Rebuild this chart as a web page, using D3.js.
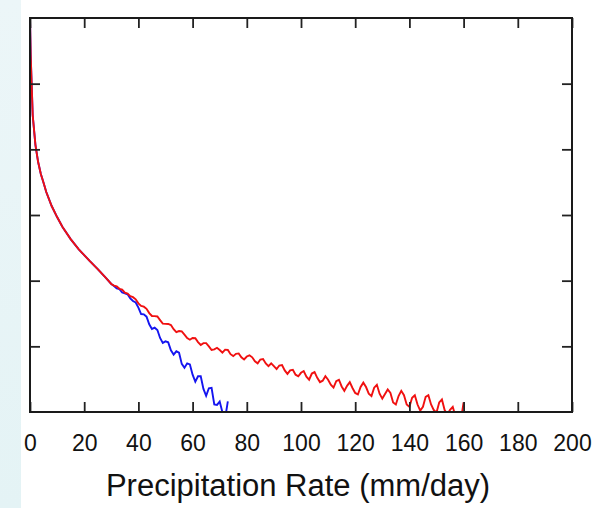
<!DOCTYPE html>
<html>
<head>
<meta charset="utf-8">
<script src="https://cdn.jsdelivr.net/npm/d3@7"></script>
<style>
  body { margin: 0; background: #fff; }
  svg { display: block; }
</style>
</head>
<body>
<div id="chart"></div>
<script>
// shared part of both curves (rate in mm/day, count on log axis)
var commonRates = [0, 0.25, 0.5, 1, 2, 3, 4, 5, 6, 8, 10, 12, 15, 18, 20, 22, 25, 28, 30];
var commonCounts = [1e6, 275000, 135000, 33000, 11700, 6400, 4200, 3100, 2240, 1370, 930, 655, 430, 300, 245, 200, 150, 110, 89];

// red tail, 1 mm/day bins from 31 to 160
var redTail = [
  84, 81.6, 75.2, 73.1, 65.7, 63.6, 58.2, 56.1, 52, 45.1,
  41.3, 40.2, 37.3, 32.1, 29.0, 28.8, 28.5, 25.1, 22.2, 22.0,
  21.9, 21.1, 18.2, 16.4, 17.1, 16.9, 15.1, 13.4, 12.6, 13.4,
  13.3, 11.6, 10.5, 11.2, 11.2, 10.0, 8.8, 9.0, 9.5, 8.8,
  8.0, 8.9, 8.8, 7.6, 7.1, 7.7, 7.8, 6.8, 6.3, 7.0,
  7.3, 6.8, 5.9, 5.5, 6.3, 6.4, 5.5, 5.0, 5.5, 5.0,
  4.5, 5.1, 5.2, 4.3, 3.8, 4.3, 4.4, 3.7, 3.5, 3.95,
  4.2, 3.45, 3.1, 3.85, 4.05, 3.31, 2.85, 3.0, 3.5, 3.1,
  2.6, 2.35, 2.95, 3.1, 2.45, 2.1, 2.5, 2.85, 2.32, 1.95,
  1.85, 2.4, 2.8, 2.4, 1.9, 1.75, 2.35, 2.6, 1.9, 1.6,
  1.88, 2.2, 1.95, 1.4, 1.3, 1.75, 2.1, 1.8, 1.3, 1.2,
  1.65, 1.8, 1.3, 1.05, 1.2, 1.7, 1.8, 1.3, 1.07, 0.98,
  1.4, 1.55, 1.07, 0.92, 1.08, 1.2, 0.86, 0.7, 0.75, 1.4
];

// blue tail, 1 mm/day bins from 31 to 73
var blueTail = [
  83, 76.4, 74.2, 66, 64.3, 62, 53.8, 49, 46.6, 38.8,
  31, 30.7, 28.3, 21.7, 18.4, 19.2, 17.7, 13.4, 11.3, 11.9,
  11.5, 8.7, 7.5, 8.4, 8.0, 5.4, 4.7, 5.5, 5.3, 3.7,
  2.9, 3.5, 3.5, 2.25, 1.76, 2.3, 2.34, 1.3, 1.28, 1.44,
  0.99, 0.8, 1.45
];

var xTicks = [0, 20, 40, 60, 80, 100, 120, 140, 160, 180, 200];
var yTicks = [10, 100, 1000, 10000, 100000];

function init(){
    var w = 595, h = 508;
    var left = 30, right = 572, top = 18, bottom = 412;

    var svg = d3.select("#chart").append("svg")
        .attr("width", w).attr("height", h);

    // light strip at the left edge
    var defs = svg.append("defs");
    var grad = defs.append("linearGradient")
        .attr("id", "strip").attr("x1", 0).attr("y1", 0).attr("x2", 0).attr("y2", 1);
    grad.append("stop").attr("offset", 0).attr("stop-color", "#ecf6f8");
    grad.append("stop").attr("offset", 1).attr("stop-color", "#e4f3f5");
    svg.append("rect").attr("x", 0).attr("y", 0).attr("width", 21).attr("height", h)
        .attr("fill", "url(#strip)");

    defs.append("clipPath").attr("id", "plot")
        .append("rect").attr("x", left).attr("y", top)
        .attr("width", right - left).attr("height", bottom - top);

    var x = d3.scaleLinear().domain([0, 200]).range([left, right]);
    var y = d3.scaleLog().domain([1, 1e6]).range([bottom, top]);

    function series(tail){
        var pts = commonRates.map(function(r, i){ return {rate: r, count: commonCounts[i]}; });
        tail.forEach(function(c, i){ pts.push({rate: 31 + i, count: c}); });
        return pts;
    }

    var line = d3.line()
        .x(function(d){ return x(d.rate); })
        .y(function(d){ return y(Math.max(d.count, 0.3)); });

    var g = svg.append("g").attr("clip-path", "url(#plot)");
    g.append("path").datum(series(blueTail))
        .attr("d", line).attr("fill", "none")
        .attr("stroke", "#1515f0").attr("stroke-width", 1.9);
    g.append("path").datum(series(redTail))
        .attr("d", line).attr("fill", "none")
        .attr("stroke", "#f01010").attr("stroke-width", 1.9);

    // axes, ticks pointing inward
    var font = "'Liberation Sans', Arial, sans-serif";
    var xb = svg.append("g").attr("transform", "translate(0," + bottom + ")")
        .call(d3.axisBottom(x).tickValues(xTicks).tickSizeInner(-10).tickSizeOuter(0).tickPadding(23));
    xb.selectAll("text").attr("font-family", font).attr("font-size", 23).attr("fill", "#111");

    svg.append("g").attr("transform", "translate(0," + top + ")")
        .call(d3.axisTop(x).tickValues(xTicks).tickSizeInner(-10).tickSizeOuter(0).tickFormat(""));
    svg.append("g").attr("transform", "translate(" + left + ",0)")
        .call(d3.axisLeft(y).tickValues(yTicks).tickSizeInner(-10).tickSizeOuter(0).tickFormat(""));
    svg.append("g").attr("transform", "translate(" + right + ",0)")
        .call(d3.axisRight(y).tickValues(yTicks).tickSizeInner(-10).tickSizeOuter(0).tickFormat(""));

    svg.selectAll(".domain").remove();
    svg.selectAll(".tick line").attr("stroke", "#222").attr("stroke-width", 1.8);

    svg.append("rect").attr("x", left).attr("y", top)
        .attr("width", right - left).attr("height", bottom - top)
        .attr("fill", "none").attr("stroke", "#1a1a1a").attr("stroke-width", 2);

    svg.append("text")
        .attr("x", (left + right) / 2 - 3).attr("y", 496)
        .attr("text-anchor", "middle")
        .attr("font-family", font).attr("font-size", 31).attr("fill", "#111")
        .text("Precipitation Rate (mm/day)");
}
window.onload = init;
</script>
</body>
</html>
